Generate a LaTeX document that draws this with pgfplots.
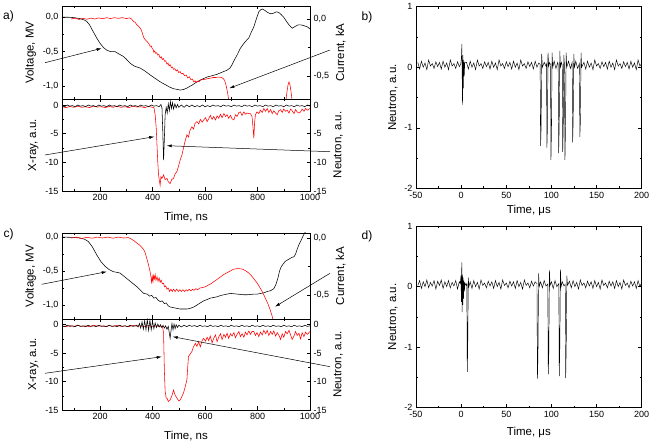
\documentclass[border=0pt]{standalone}
\usepackage{fontspec}
\setmainfont{Liberation Sans}
\usepackage{pgfplots}
\pgfplotsset{compat=1.18}
\usetikzlibrary{arrows.meta}

\pgfplotsset{
  base/.style={
    scale only axis, tick align=inside, anchor=south west,
    major tick length=3.5pt, minor tick length=2pt,
    every tick/.append style={black, line width=0.5pt},
    axis line style={line width=0.6pt},
    tick label style={font=\fontsize{9}{10}\selectfont},
    label style={font=\fontsize{11.5}{13}\selectfont},
    /pgf/number format/assume math mode=true,
    /pgf/number format/set thousands separator={},
    every axis plot/.append style={line width=0.55pt},
  },
  ns/.style={base, xmin=55, xmax=1000, width=248pt,
    xtick={200,400,600,800,1000}, minor xtick={100,300,500,700,900},
    xlabel style={yshift=-4pt}},
  comma/.style={yticklabel style={/pgf/number format/.cd, fixed, fixed zerofill, precision=1, use comma}},
  twin/.style={xtick=\empty, minor xtick={}, ytick pos=right, yticklabel pos=right},
  us/.style={base, xmin=-50, xmax=200, ymin=-2, ymax=1, width=225.7pt, height=181.6pt,
    xtick={-50,0,50,100,150,200}, minor xtick={-25,25,75,125,175},
    ytick={-2,-1,0,1}, minor ytick={-1.5,-0.5,0.5},
    xlabel={Time, μs}, ylabel={Neutron, a.u.}},
}

\begin{document}
\begin{tikzpicture}
\useasboundingbox (0pt,0pt) rectangle (649pt,445pt);

% ---------- a) top: voltage / current
\begin{axis}[ns, comma, at={(62pt,346pt)}, height=93pt,
  ymin=-1.19, ymax=0.164, ytick={-1,-0.5,0}, minor ytick={-0.75,-0.25},
  ytick pos=left, xticklabels={}, ylabel={Voltage, MV}]
\addplot[black] coordinates {
(55,0.00) (80,0.00) (100,-0.005) (124,-0.02) (140,-0.04) (149,-0.06) (160,-0.11) (174,-0.21)
(187,-0.30) (200,-0.38) (213,-0.44) (226,-0.48) (240,-0.50) (257,-0.50) (270,-0.53) (289,-0.57)
(300,-0.61) (315,-0.67) (330,-0.71) (353,-0.74) (370,-0.78) (391,-0.84) (410,-0.89) (429,-0.94)
(448,-0.98) (467,-1.02) (480,-1.04) (506,-1.06) (520,-1.05) (531,-1.03) (550,-0.99) (569,-0.94)
(590,-0.90) (608,-0.87) (628,-0.85) (646,-0.83) (665,-0.80) (684,-0.77) (695,-0.74) (703,-0.69)
(712,-0.62) (722,-0.55) (735,-0.45) (748,-0.38) (757,-0.34) (767,-0.30) (776,-0.22) (786,-0.14)
(795,-0.03) (805,0.08) (812,0.11) (818,0.12) (828,0.10) (838,0.07) (850,0.05) (862,0.06)
(872,0.08) (881,0.07) (890,0.04) (900,0.00) (912,-0.07) (922,-0.12) (932,-0.16) (945,-0.13)
(955,-0.11) (964,-0.11) (975,-0.12) (990,-0.14) (1000,-0.17)};
\end{axis}
\begin{axis}[ns, comma, twin, at={(62pt,346pt)}, height=93pt,
  ymin=-0.70, ymax=0.114, ytick={-0.5,0}, minor ytick={-0.25}, ylabel={Current, kA}]
\addplot[red] coordinates {
(90,0.000) (105,0.008) (120,-0.004) (135,0.006) (150,-0.002) (165,0.008) (180,0.000) (195,0.010)
(210,0.002) (225,0.012) (240,0.004) (255,0.012) (270,0.006) (285,0.012) (300,0.004) (312,0.010)
(320,0.000) (327,-0.020) (334,-0.030) (340,-0.050) (347,-0.065) (353,-0.080) (358,-0.100) (362,-0.130)
(366,-0.160) (370,-0.175) (374,-0.185) (378,-0.195) (382,-0.205) (386,-0.215) (391,-0.240) (395,-0.235)
(398,-0.255) (402,-0.265) (405,-0.290) (408,-0.280) (412,-0.300) (416,-0.295) (420,-0.315) (424,-0.310)
(429,-0.340) (433,-0.330) (437,-0.355) (441,-0.345) (446,-0.370) (450,-0.365) (455,-0.395) (459,-0.385)
(463,-0.410) (467,-0.400) (472,-0.425) (476,-0.420) (480,-0.440) (485,-0.435) (490,-0.455) (495,-0.445)
(500,-0.470) (505,-0.460) (510,-0.480) (516,-0.475) (522,-0.495) (528,-0.490) (534,-0.515) (540,-0.505)
(546,-0.530) (552,-0.525) (557,-0.550) (562,-0.540) (567,-0.555) (572,-0.545) (577,-0.550) (582,-0.535)
(590,-0.530) (600,-0.528) (610,-0.522) (620,-0.518) (630,-0.512) (640,-0.512) (650,-0.508) (659,-0.510)
(666,-0.515) (671,-0.525) (675,-0.540) (679,-0.570) (683,-0.610) (687,-0.660) (691,-0.720) (695,-0.800)
(900,-0.800) (908,-0.720) (912,-0.640) (916,-0.580) (920,-0.550) (924,-0.580) (928,-0.640) (932,-0.720)
(938,-0.800) (1000,-0.800)};
\end{axis}

% ---------- a) bottom: X-ray / neutron
\begin{axis}[ns, at={(62pt,254pt)}, height=92pt,
  ymin=-15, ymax=1.05, ytick={-15,-10,-5,0}, minor ytick={-12.5,-7.5,-2.5},
  ytick pos=left, xlabel={Time, ns}, ylabel={X-ray, a.u.}]
\addplot[red] coordinates {
(55,-0.3) (70,-0.45) (85,-0.25) (100,-0.4) (115,-0.2) (130,-0.4) (145,-0.3) (160,-0.45) (175,-0.2)
(190,-0.35) (205,-0.3) (220,-0.45) (235,-0.25) (250,-0.4) (265,-0.2) (280,-0.4) (295,-0.3) (310,-0.45)
(325,-0.2) (340,-0.35) (355,-0.3) (370,-0.45) (385,-0.25) (400,-0.4) (405,-0.4) (410,-1.7) (414,-4)
(417,-7) (420,-10) (423,-12.2) (426,-13.2) (429,-14) (432,-12.5) (436,-12.8) (442,-12.2) (448,-13)
(455,-12.8) (460,-13.4) (467,-13.7) (473,-13.0) (480,-12.8) (486,-12.0) (493,-11.6) (500,-10.5)
(506,-9.5) (512,-8.7) (518,-7.5) (524,-6.3) (531,-5.2) (537,-5.6) (542,-4.5) (550,-3.8) (556,-4.2)
(562,-3.2) (569,-2.9) (576,-3.3) (582,-2.5) (589,-3.0) (595,-2.6) (602,-2.2) (608,-2.9) (614,-2.4)
(620,-1.8) (627,-2.5) (633,-2.0) (640,-2.6) (646,-1.9) (652,-2.3) (659,-1.6) (665,-2.2) (672,-1.5)
(678,-2.0) (684,-1.7) (690,-2.3) (697,-1.8) (703,-2.4) (710,-2.6) (716,-1.7) (722,-2.0) (729,-1.3)
(735,-1.2) (741,-1.8) (748,-1.2) (754,-1.6) (760,-1.4) (767,-1.5) (773,-1.5) (779,-2.0) (783,-4.0)
(786,-5.8) (789,-3.0) (792,-1.7) (798,-1.2) (805,-1.5) (811,-0.9) (818,-1.3) (824,-0.6) (831,-1.1)
(837,-0.6) (843,-1.3) (850,-0.8) (856,-1.5) (862,-1.0) (869,-1.4) (875,-1.7) (881,-1.0) (888,-0.8)
(894,-1.3) (900,-0.7) (907,-1.1) (913,-0.9) (920,-1.4) (926,-0.7) (932,-1.0) (939,-1.5) (945,-0.8)
(951,-1.2) (958,-1.4) (964,-1.2) (970,-0.7) (977,-1.1) (983,-0.6) (990,-0.9) (1000,-0.6)};
\end{axis}
\begin{axis}[ns, twin, at={(62pt,254pt)}, height=92pt,
  ymin=-15, ymax=1.05, ytick={-15,-10,-5,0}, minor ytick={-12.5,-7.5,-2.5},
  ylabel={Neutron, a.u.}]
\addplot[black] coordinates {
(55,-0.1) (65,-0.3) (75,0.0) (85,-0.2) (95,-0.1) (105,-0.3) (115,0.0) (125,-0.2) (135,-0.1) (145,-0.3)
(155,0.0) (165,-0.2) (175,-0.1) (185,-0.3) (195,0.0) (205,-0.2) (215,-0.1) (225,-0.3) (235,0.0)
(245,-0.2) (255,-0.1) (265,-0.3) (275,0.0) (285,-0.2) (295,-0.1) (305,-0.3) (315,0.0) (325,-0.2)
(335,-0.1) (345,-0.3) (355,0.0) (365,-0.2) (375,-0.1) (385,-0.3) (395,0.0) (405,-0.2) (415,-0.1)
(425,-0.3) (432,0.1) (436,-0.5) (439,-4.5) (442,-9.6) (445,-6.0) (448,-1.7) (452,-0.4) (456,-1.4)
(460,0.2) (464,-1.0) (468,0.6) (472,-0.6) (476,0.4) (480,-0.7) (485,0.2) (490,-0.5) (495,0.1)
(500,-0.4) (510,0.0) (520,-0.4) (530,0.0) (540,-0.3) (550,0.0) (560,-0.3) (570,-0.1) (580,-0.3)
(590,0.0) (600,-0.3) (610,-0.1) (620,-0.3) (630,0.0) (640,-0.2) (650,-0.1) (660,-0.3) (670,0.0)
(680,-0.2) (690,-0.1) (700,-0.3) (710,0.0) (720,-0.2) (730,-0.1) (740,-0.3) (750,0.0) (760,-0.2)
(770,-0.1) (780,-0.3) (790,0.0) (800,-0.2) (810,-0.1) (820,-0.3) (830,0.0) (840,-0.2) (850,-0.1)
(860,-0.3) (870,0.0) (880,-0.2) (890,-0.1) (900,-0.3) (910,0.0) (920,-0.2) (930,-0.1) (940,-0.3)
(950,0.0) (960,-0.2) (970,-0.1) (980,-0.3) (990,0.0) (1000,-0.2)};
\end{axis}

% ---------- c) top: voltage / current
\begin{axis}[ns, comma, at={(62pt,126pt)}, height=86pt,
  ymin=-1.207, ymax=0.06, ytick={-1,-0.5,0}, minor ytick={-0.75,-0.25},
  ytick pos=left, xticklabels={}, ylabel={Voltage, MV}]
\addplot[black] coordinates {
(55,0.00) (100,-0.005) (124,-0.015) (140,-0.03) (155,-0.065) (170,-0.14) (187,-0.26) (203,-0.36)
(219,-0.43) (235,-0.48) (251,-0.51) (264,-0.52) (276,-0.53) (292,-0.58) (308,-0.63) (324,-0.68)
(340,-0.73) (353,-0.78) (366,-0.83) (380,-0.84) (388,-0.87) (397,-0.86) (405,-0.90) (413,-0.89)
(421,-0.93) (429,-0.95) (437,-0.94) (445,-0.98) (452,-0.97) (459,-1.01) (467,-1.03) (480,-1.04)
(492,-1.05) (505,-1.06) (518,-1.06) (531,-1.06) (544,-1.05) (557,-1.03) (570,-1.00) (582,-0.97)
(595,-0.94) (608,-0.92) (620,-0.90) (633,-0.89) (646,-0.88) (660,-0.86) (672,-0.85) (684,-0.84)
(697,-0.83) (710,-0.835) (722,-0.84) (735,-0.845) (748,-0.85) (761,-0.85) (774,-0.845) (787,-0.84)
(799,-0.84) (812,-0.83) (825,-0.82) (838,-0.80) (850,-0.79) (862,-0.76) (870,-0.70) (878,-0.60)
(884,-0.50) (890,-0.44) (897,-0.40) (905,-0.36) (913,-0.34) (922,-0.32) (930,-0.30) (939,-0.29)
(945,-0.25) (952,-0.17) (958,-0.11) (966,-0.05) (974,0.02) (983,0.08) (990,0.12) (1000,0.14)};
\end{axis}
\begin{axis}[ns, comma, twin, at={(62pt,126pt)}, height=86pt,
  ymin=-0.712, ymax=0.044, ytick={-0.5,0}, minor ytick={-0.25}, ylabel={Current, kA}]
\addplot[red] coordinates {
(90,0.000) (110,0.008) (130,-0.004) (150,0.006) (170,-0.002) (190,0.008) (210,0.000) (230,0.008)
(250,-0.002) (270,0.008) (290,0.000) (308,0.004) (320,-0.010) (330,-0.025) (340,-0.044) (350,-0.060)
(358,-0.080) (366,-0.100) (372,-0.130) (378,-0.180) (383,-0.220) (387,-0.260) (391,-0.300) (394,-0.340)
(397,-0.400) (399,-0.340) (402,-0.380) (404,-0.330) (407,-0.360) (410,-0.320) (413,-0.370) (417,-0.340)
(421,-0.380) (425,-0.350) (429,-0.390) (433,-0.370) (437,-0.400) (442,-0.400) (446,-0.430) (450,-0.420)
(455,-0.450) (460,-0.440) (465,-0.470) (470,-0.450) (475,-0.470) (480,-0.450) (486,-0.470) (492,-0.450)
(498,-0.470) (504,-0.455) (510,-0.470) (516,-0.455) (522,-0.470) (528,-0.455) (534,-0.465) (540,-0.450)
(546,-0.465) (552,-0.450) (558,-0.460) (565,-0.445) (572,-0.455) (580,-0.440) (590,-0.435) (600,-0.430)
(612,-0.415) (624,-0.400) (636,-0.380) (648,-0.360) (660,-0.340) (672,-0.320) (684,-0.305) (696,-0.290)
(708,-0.275) (720,-0.270) (732,-0.270) (744,-0.275) (756,-0.290) (768,-0.310) (780,-0.340) (790,-0.370)
(800,-0.400) (810,-0.440) (820,-0.480) (830,-0.530) (840,-0.580) (848,-0.630) (855,-0.680) (860,-0.730)
(866,-0.800)};
\end{axis}

% ---------- c) bottom: X-ray / neutron
\begin{axis}[ns, at={(62pt,35pt)}, height=91pt,
  ymin=-15, ymax=1.0, ytick={-15,-10,-5,0}, minor ytick={-12.5,-7.5,-2.5},
  ytick pos=left, xlabel={Time, ns}, ylabel={X-ray, a.u.}]
\addplot[red] coordinates {
(55,-0.2) (70,-0.35) (85,-0.15) (100,-0.3) (115,-0.1) (130,-0.3) (145,-0.2) (160,-0.35) (175,-0.1)
(190,-0.25) (205,-0.2) (220,-0.35) (235,-0.15) (250,-0.3) (265,-0.1) (280,-0.3) (295,-0.2) (310,-0.35)
(325,-0.1) (340,-0.25) (355,-0.2) (370,-0.35) (385,-0.15) (400,-0.3) (415,-0.2) (430,-0.35) (438,-0.3)
(442,-1.5) (445,-7.9) (448,-11.7) (452,-12.9) (455,-12.9) (460,-13.5) (467,-13.2) (473,-12.6)
(480,-11.5) (486,-12.4) (493,-12.9) (500,-13.4) (506,-13.2) (512,-12.6) (518,-12.0) (524,-11.0)
(531,-9.7) (534,-7.5) (537,-5.6) (543,-5.2) (550,-4.7) (556,-3.9) (563,-3.3) (569,-3.8) (576,-3.0)
(582,-3.9) (589,-2.8) (595,-2.4) (602,-2.9) (608,-2.2) (614,-2.8) (620,-2.0) (627,-3.2) (633,-2.4)
(640,-1.8) (646,-3.0) (652,-2.2) (659,-1.6) (665,-2.6) (672,-1.7) (678,-2.2) (684,-1.5) (690,-2.4)
(697,-1.6) (703,-2.0) (710,-1.4) (716,-2.3) (722,-1.7) (729,-1.2) (735,-2.1) (741,-1.6) (748,-2.2)
(754,-1.3) (760,-1.8) (767,-1.1) (773,-1.7) (779,-1.2) (786,-1.2) (792,-1.9) (798,-1.4) (805,-2.1)
(811,-1.3) (818,-1.8) (824,-1.0) (831,-1.6) (837,-1.0) (843,-1.9) (850,-1.2) (856,-1.7) (862,-1.1)
(869,-2.0) (875,-1.4) (881,-1.8) (888,-2.6) (894,-1.6) (900,-2.2) (907,-1.2) (913,-1.6) (920,-1.0)
(926,-1.8) (932,-2.6) (939,-2.0) (945,-1.2) (951,-1.9) (958,-1.5) (964,-2.5) (970,-1.4) (977,-2.1)
(983,-1.3) (990,-1.7) (1000,-1.2)};
\end{axis}
\begin{axis}[ns, twin, at={(62pt,35pt)}, height=91pt,
  ymin=-15, ymax=1.0, ytick={-15,-10,-5,0}, minor ytick={-12.5,-7.5,-2.5},
  ylabel={Neutron, a.u.}]
\addplot[black] coordinates {
(55,-0.2) (65,-0.35) (75,-0.1) (85,-0.3) (95,-0.2) (105,-0.35) (115,-0.1) (125,-0.3) (135,-0.2)
(145,-0.35) (155,-0.1) (165,-0.3) (175,-0.2) (185,-0.35) (195,-0.1) (205,-0.3) (215,-0.2) (225,-0.35)
(235,-0.1) (245,-0.3) (255,-0.2) (265,-0.35) (275,-0.1) (285,-0.3) (295,-0.2) (305,-0.35) (315,-0.1)
(325,-0.3) (335,-0.2) (340,-0.1) (345,-0.4) (350,0.2) (355,-0.6) (360,0.5) (365,-0.8) (370,0.7)
(375,-0.9) (380,0.9) (385,-1.0) (390,0.8) (395,-0.9) (400,0.6) (405,-0.7) (410,0.3) (415,-0.5)
(420,0.1) (425,-0.4) (430,0.0) (435,-0.5) (440,-0.1) (445,-0.6) (450,-0.2) (455,-0.8) (460,-0.3)
(464,-1.5) (467,-2.4) (470,-1.2) (474,0.2) (478,-0.9) (482,0.1) (486,-0.7) (490,0.0) (495,-0.5)
(500,-0.1) (510,-0.4) (520,-0.1) (530,-0.35) (540,-0.1) (550,-0.3) (560,-0.15) (570,-0.35) (580,-0.1)
(590,-0.3) (600,-0.2) (610,-0.35) (620,-0.1) (630,-0.3) (640,-0.2) (650,-0.35) (660,-0.1) (670,-0.3)
(680,-0.2) (690,-0.35) (700,-0.1) (710,-0.3) (720,-0.2) (730,-0.35) (740,-0.1) (750,-0.3) (760,-0.2)
(770,-0.35) (780,-0.1) (790,-0.3) (800,-0.2) (810,-0.35) (820,-0.1) (830,-0.3) (840,-0.2) (850,-0.35)
(860,-0.1) (870,-0.3) (880,-0.2) (890,-0.35) (900,-0.1) (910,-0.3) (920,-0.2) (930,-0.35) (940,-0.1)
(950,-0.3) (960,-0.2) (970,-0.35) (980,-0.1) (990,-0.3) (1000,-0.2)};
\end{axis}

% ---------- b) neutron, long time
\begin{axis}[us, at={(416pt,256.7pt)}]
\addplot[black, line width=0.45pt] coordinates {
(-48,0.08) (-46,-0.03) (-44,0.10) (-42,0.00) (-40,0.07) (-38,-0.04) (-36,0.12) (-34,0.02) (-32,0.06)
(-30,-0.02) (-28,0.09) (-26,0.01) (-24,0.08) (-22,-0.03) (-20,0.10) (-18,0.00) (-16,0.07) (-14,-0.04)
(-12,0.12) (-10,0.02) (-8,0.06) (-6,-0.02) (-4,0.09) (-2,0.01) (-0.5,0.05) (0.3,0.15) (0.8,0.38)
(1.2,-0.20) (1.5,-0.62) (1.9,0.20) (2.4,-0.35) (2.9,0.12) (3.4,-0.15) (4,0.08)
(6,0.08) (8,-0.03) (10,0.10) (12,0.00) (14,0.07) (16,-0.04) (18,0.12) (20,0.02) (22,0.06) (24,-0.02)
(26,0.09) (28,0.01) (30,0.08) (32,-0.03) (34,0.10) (36,0.00) (38,0.07) (40,-0.04) (42,0.12) (44,0.02)
(46,0.06) (48,-0.02) (50,0.09) (52,0.01) (54,0.08) (56,-0.03) (58,0.10) (60,0.00) (62,0.07) (64,-0.04)
(66,0.12) (68,0.02) (70,0.06) (72,-0.02) (74,0.09) (76,0.01) (78,0.08) (80,-0.03) (82,0.10) (84,0.00)
(86,0.07) (87.5,0.05) (88,-1.30) (88.6,-1.00) (89.2,0.22) (90,0.00) (92,0.08) (94,0.02) (94.6,0.05)
(95,-1.33) (95.6,-1.00) (96.2,0.24) (97,0.02) (98,0.08) (99,0.04) (99.5,-1.53) (100.1,-1.00)
(100.7,0.24) (101.5,0.00) (103,0.10) (105,-0.02) (107,0.08) (107.5,0.04) (108,-1.42) (108.6,-1.00)
(109.3,0.27) (110,0.00) (111,0.08) (112,0.03) (112.5,-1.40) (113.1,-1.00) (113.7,0.20) (114.4,0.05)
(115,-1.53) (115.6,-1.00) (116.3,0.24) (117,0.00) (119,0.10) (121,-0.02) (123,0.08) (123.5,-1.24)
(124.1,-0.90) (124.8,0.22) (125.5,0.00) (127,0.10) (129,-0.02) (131,0.06) (131.5,-1.15) (132.1,-0.90)
(132.8,0.24) (133.5,0.00) (136,0.08) (138,-0.03) (140,0.10) (142,0.00) (144,0.07) (146,-0.04)
(148,0.12) (150,0.02) (152,0.06) (154,-0.02) (156,0.09) (158,0.01) (160,0.08) (162,-0.03) (164,0.10)
(166,0.00) (168,0.07) (170,-0.04) (172,0.12) (174,0.02) (176,0.06) (178,-0.02) (180,0.09) (182,0.01)
(184,0.08) (186,-0.03) (188,0.10) (190,0.00) (192,0.07) (194,-0.04) (196,0.12) (198,0.02) (200,0.06)};
\end{axis}

% ---------- d) neutron, long time
\begin{axis}[us, at={(416pt,37.3pt)}, xlabel style={yshift=-3pt}]
\addplot[black, line width=0.45pt] coordinates {
(-48,0.02) (-46,0.10) (-44,-0.03) (-42,0.08) (-40,0.00) (-38,0.11) (-36,-0.02) (-34,0.07) (-32,0.01)
(-30,0.10) (-28,-0.04) (-26,0.09) (-24,0.02) (-22,0.11) (-20,-0.03) (-18,0.08) (-16,0.00) (-14,0.10)
(-12,-0.02) (-10,0.07) (-8,0.01) (-6,0.10) (-4,-0.04) (-2,0.08) (-1,0.05) (-0.2,0.18) (0.3,-0.25)
(0.7,0.40) (1.1,-0.42) (1.5,0.20) (1.9,-0.30) (2.3,0.15) (2.7,-0.20) (3.1,0.10) (3.6,-0.08)
(4.2,0.06) (5.5,0.02) (6.3,0.05) (6.8,-1.41) (7.3,-1.00) (7.9,0.15) (8.6,0.00) (10,0.08) (12,-0.03)
(14,0.10) (16,0.00) (18,0.07) (20,-0.04) (22,0.11) (24,0.02) (26,0.06) (28,-0.02) (30,0.09) (32,0.01)
(34,0.08) (36,-0.03) (38,0.10) (40,0.00) (42,0.07) (44,-0.04) (46,0.11) (48,0.02) (50,0.06)
(52,-0.02) (54,0.09) (56,0.01) (58,0.08) (60,-0.03) (62,0.10) (64,0.00) (66,0.07) (68,-0.04)
(70,0.11) (72,0.02) (74,0.06) (76,-0.02) (78,0.09) (80,0.01) (82,0.08) (84,0.05) (84.5,-1.52)
(85.1,-1.15) (85.8,0.22) (86.5,0.00) (88,0.08) (90,-0.02) (92,0.10) (94,0.01) (96,0.04) (96.5,-1.45)
(97.1,-1.10) (97.8,0.27) (98.5,0.02) (100,0.08) (102,-0.03) (104,0.10) (106,0.00) (108.2,0.05)
(108.7,-1.48) (109.3,-1.00) (110,0.28) (110.7,0.00) (112,0.08) (114,0.01) (115.3,0.04) (115.8,-1.51)
(116.4,-1.00) (117.1,0.18) (117.8,0.02) (120,0.09) (122,-0.02) (124,0.10) (126,0.00) (128,0.07)
(130,-0.04) (132,0.11) (134,0.02) (136,0.06) (138,-0.02) (140,0.09) (142,0.01) (144,0.08) (146,-0.03)
(148,0.10) (150,0.00) (152,0.07) (154,-0.04) (156,0.11) (158,0.02) (160,0.06) (162,-0.02) (164,0.09)
(166,0.01) (168,0.08) (170,-0.03) (172,0.10) (174,0.00) (176,0.07) (178,-0.04) (180,0.11) (182,0.02)
(184,0.06) (186,-0.02) (188,0.09) (190,0.01) (192,0.08) (194,-0.03) (196,0.10) (198,0.00) (200,0.07)};
\end{axis}

% ---------- panel letters and pointer arrows
\node[font=\fontsize{12}{14}\selectfont] at (8.5pt,429pt) {a)};
\node[font=\fontsize{12}{14}\selectfont] at (8.5pt,211pt) {c)};
\node[font=\fontsize{12}{14}\selectfont] at (367pt,427.5pt) {b)};
\node[font=\fontsize{12}{14}\selectfont] at (367pt,209pt) {d)};
\begin{scope}[line width=0.5pt, -{Latex[length=5pt,width=3pt]}]
\draw (45pt,382.3pt) -- (101.7pt,396.7pt);
\draw (330pt,395pt) -- (229.3pt,356.7pt);
\draw (45pt,290pt) -- (154.3pt,308.3pt);
\draw (330pt,293.3pt) -- (166.7pt,299.3pt);
\draw (41.7pt,160.7pt) -- (106.7pt,173.3pt);
\draw (330pt,171.7pt) -- (275pt,138.3pt);
\draw (45pt,71.7pt) -- (161.7pt,88.3pt);
\draw (330pt,78.3pt) -- (172.7pt,108.3pt);
\end{scope}
\end{tikzpicture}
\end{document}
